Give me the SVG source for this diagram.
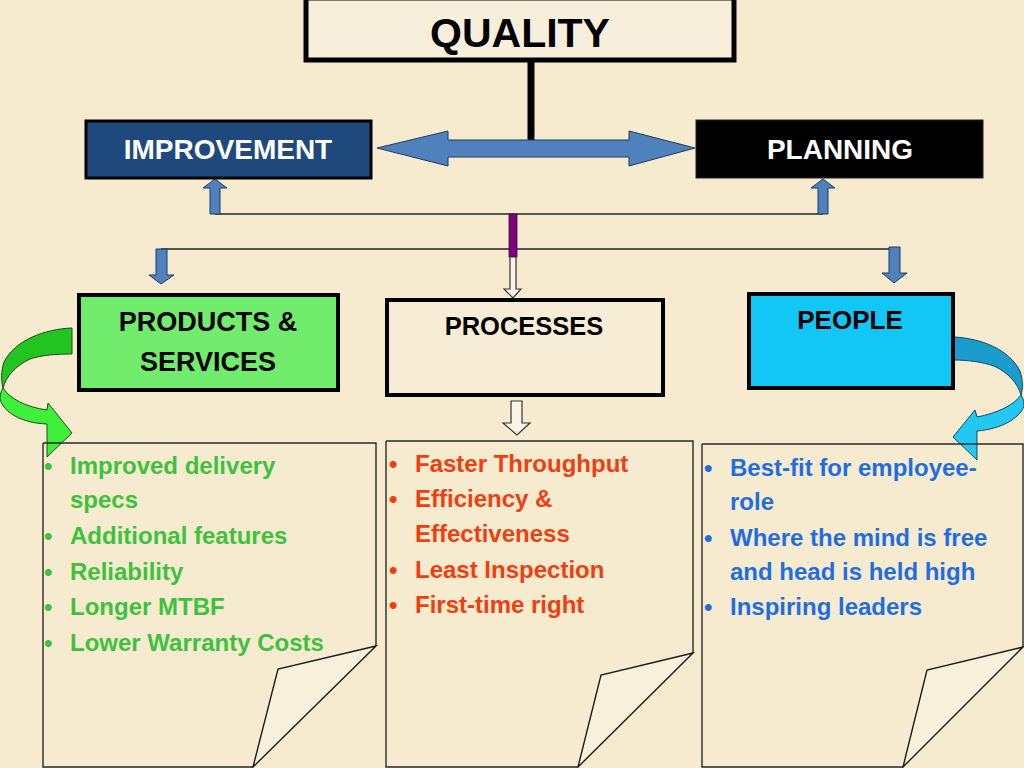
<svg xmlns="http://www.w3.org/2000/svg" width="1024" height="768" viewBox="0 0 1024 768">
<style>
.hd{font-family:"Liberation Sans",Arial,sans-serif;font-weight:bold;text-anchor:middle}
.bd{font-family:"Liberation Sans",Arial,sans-serif;font-weight:bold;font-size:24px}
.g{fill:#3cc23c}
.r{fill:#f23d0e}
.b{fill:#1e6ee2}
.doc{fill:none;stroke:#2a2a2a;stroke-width:1.4}
.curl{fill:#f9f0dc;stroke:#1a1a1a;stroke-width:1.4;stroke-linejoin:miter}
.blk{fill:#4f81bd;stroke:#1f3a5f;stroke-width:1}
.hol{fill:#fbf4e4;stroke:#333;stroke-width:1.2}
.thin{stroke:#222;stroke-width:1.3;fill:none}
</style>
<rect width="1024" height="768" fill="#f7ebcf"/>

<g id="connectors">
  <line x1="531" y1="60" x2="531" y2="141" stroke="#000" stroke-width="7"/>
  <path class="blk" d="M377,148 L448,131 L448,140 L629,140 L629,131 L695,148 L629,166 L629,157 L448,157 L448,166 Z"/>
  <line class="thin" x1="215" y1="214" x2="823" y2="214"/>
  <line class="thin" x1="161" y1="249" x2="894" y2="249"/>
  <path class="blk" d="M210,214 L210,188 L203,188 L215,179 L227,188 L220,188 L220,214 Z"/>
  <path class="blk" d="M818,214 L818,188 L811,188 L823,179 L835,188 L828,188 L828,214 Z"/>
  <path class="blk" d="M156,249 L167,249 L167,275 L174,275 L161,284 L149,275 L156,275 Z"/>
  <path class="blk" d="M889,247 L900,247 L900,273 L907,273 L894,283 L882,273 L889,273 Z"/>
  <rect x="509" y="214" width="8" height="43" fill="#800080" stroke="#222" stroke-width="0.8"/>
  <path class="hol" d="M510,257 L516,257 L516,289 L521,289 L513,298 L504,289 L510,289 Z"/>
  <path class="hol" d="M511,401 L522,401 L522,423 L530,423 L517,435 L503,423 L511,423 Z"/>
  <g id="green-curve" stroke="#1a4a1a" stroke-width="1" stroke-linejoin="round">
    <path d="M72,328 C45,329 15,340 4,362 C1,372 1,380 3,388 C6,377 15,366 30,359 C42,355 56,354 72,354 Z" fill="#22c422"/>
    <path d="M3,388 C10,399 26,407 47,410 L48,403 L72,433 L47,457 L47,424 C22,423 4,413 0,399 C0,395 1,391 3,388 Z" fill="#3ef03a"/>
  </g>
  <g id="cyan-curve" stroke="#0d4a66" stroke-width="1" stroke-linejoin="round">
    <path d="M953,337 C980,338 1009,349 1020,371 C1023,381 1023,388 1021,395 C1018,384 1009,373 994,366 C982,362 968,360 953,360 Z" fill="#1a9ccc"/>
    <path d="M1021,395 C1014,405 998,413 977,417 L975,410 L953,437 L977,460 L977,431 C1001,429 1019,419 1024,406 C1024,401 1023,398 1021,395 Z" fill="#22c8f2"/>
  </g>
</g>

<g id="quality">
  <rect x="306" y="-2" width="428" height="62" fill="#f7efdc" stroke="#000" stroke-width="5"/>
  <text class="hd" x="520" y="47" font-size="41" fill="#000">QUALITY</text>
</g>
<g id="improvement">
  <rect x="86" y="121" width="285" height="57" fill="#1f497d" stroke="#000" stroke-width="3"/>
  <text class="hd" x="228" y="159" font-size="28" fill="#fff">IMPROVEMENT</text>
</g>
<g id="planning">
  <rect x="696" y="120" width="287" height="58" fill="#000" stroke="#222" stroke-width="1"/>
  <text class="hd" x="840" y="159" font-size="28" fill="#fff">PLANNING</text>
</g>
<g id="products">
  <rect x="79" y="295" width="259" height="95" fill="#72ec6c" stroke="#000" stroke-width="4"/>
  <text class="hd" x="208" y="331" font-size="27" fill="#000">PRODUCTS &amp;</text>
  <text class="hd" x="208" y="371" font-size="27" fill="#000">SERVICES</text>
</g>
<g id="processes">
  <rect x="387" y="300" width="276" height="95" fill="#f7edd6" stroke="#000" stroke-width="4"/>
  <text class="hd" x="524" y="335" font-size="25.5" fill="#000">PROCESSES</text>
</g>
<g id="people">
  <rect x="749" y="294" width="204" height="94" fill="#12c6f6" stroke="#000" stroke-width="4"/>
  <text class="hd" x="850" y="329" font-size="26" fill="#000">PEOPLE</text>
</g>

<g id="doc-products">
  <path class="doc" d="M43,443 L376,443 L376,646 M253,767 L43,767 L43,443"/>
  <path class="curl" d="M376,646 L278,669 L253,767 Z"/>
  <g class="bd g">
    <text x="44" y="474">•</text><text x="70" y="474">Improved delivery</text>
    <text x="70" y="508">specs</text>
    <text x="44" y="544">•</text><text x="70" y="544">Additional features</text>
    <text x="44" y="580">•</text><text x="70" y="580">Reliability</text>
    <text x="44" y="615">•</text><text x="70" y="615">Longer MTBF</text>
    <text x="44" y="651">•</text><text x="70" y="651">Lower Warranty Costs</text>
  </g>
</g>
<g id="doc-processes">
  <path class="doc" d="M386,441 L693,441 L693,653 M578,767 L386,767 L386,441"/>
  <path class="curl" d="M693,653 L601,675 L578,767 Z"/>
  <g class="bd r">
    <text x="389" y="472">•</text><text x="415" y="472">Faster Throughput</text>
    <text x="389" y="507">•</text><text x="415" y="507">Efficiency &amp;</text>
    <text x="415" y="542">Effectiveness</text>
    <text x="389" y="578">•</text><text x="415" y="578">Least Inspection</text>
    <text x="389" y="613">•</text><text x="415" y="613">First-time right</text>
  </g>
</g>
<g id="doc-people">
  <path class="doc" d="M702,444 L1023,444 L1023,647 M903,767 L702,767 L702,444"/>
  <path class="curl" d="M1023,647 L927,670 L903,767 Z"/>
  <g class="bd b">
    <text x="704" y="476">•</text><text x="730" y="476">Best-fit for employee-</text>
    <text x="730" y="510">role</text>
    <text x="704" y="546">•</text><text x="730" y="546">Where the mind is free</text>
    <text x="730" y="580">and head is held high</text>
    <text x="704" y="615">•</text><text x="730" y="615">Inspiring leaders</text>
  </g>
</g>
</svg>
